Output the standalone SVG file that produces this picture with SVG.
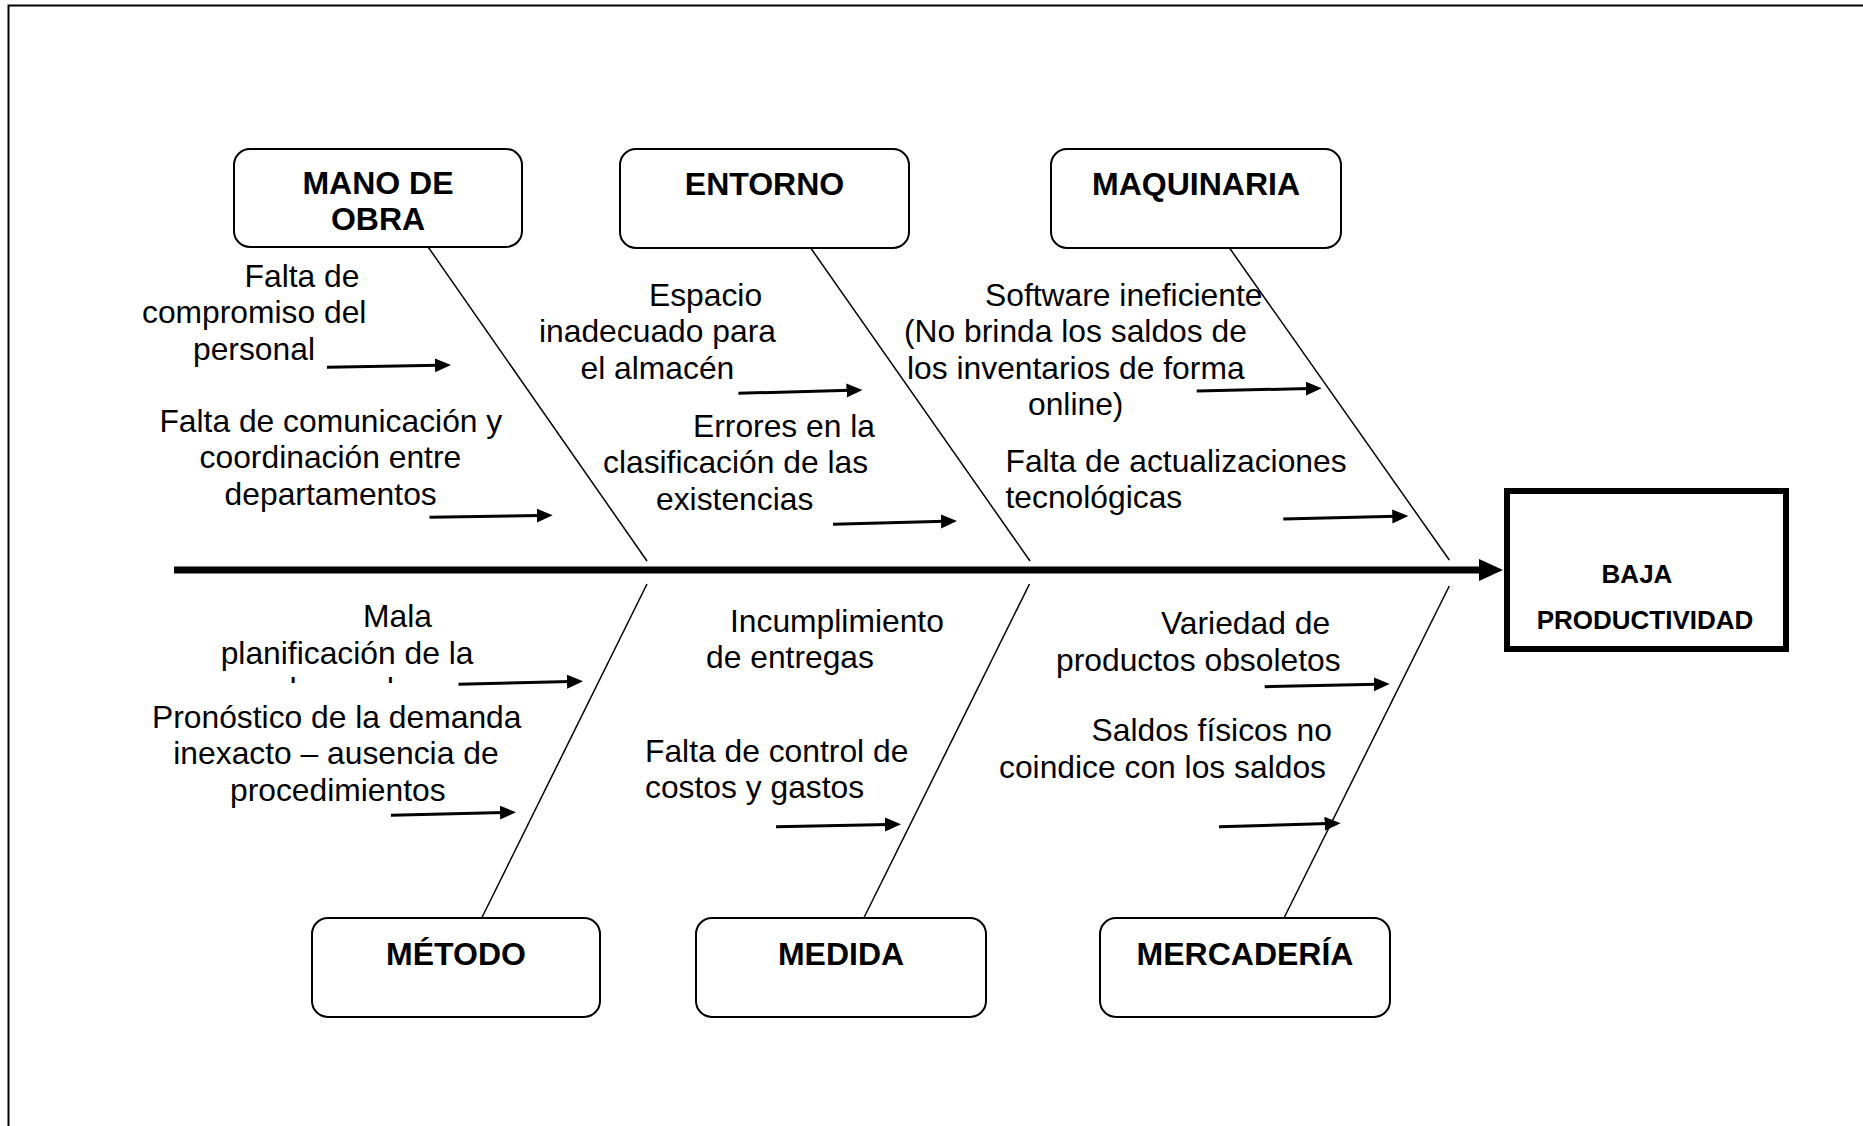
<svg xmlns="http://www.w3.org/2000/svg" width="1863" height="1126" viewBox="0 0 1863 1126">
<style>
.cat rect{fill:#fff;stroke:#000;stroke-width:2}
.cat text{font-family:"Liberation Sans",Arial,sans-serif;font-weight:bold;font-size:32px;text-anchor:middle;fill:#000}
.cause{font-family:"Liberation Sans",Arial,sans-serif;font-size:31.8px;fill:#000}
.bone{stroke:#000;stroke-width:1.5;fill:none}
.sub{stroke:#000;stroke-width:3;fill:none;marker-end:url(#ah)}
.eff{font-family:"Liberation Sans",Arial,sans-serif;font-weight:bold;font-size:26px;text-anchor:middle;fill:#000}
</style>
<defs>
<marker id="ah" markerUnits="userSpaceOnUse" markerWidth="18" markerHeight="16" refX="4" refY="7" orient="auto">
<path d="M0,0 L16,7 L0,14 z" fill="#000"/>
</marker>
<marker id="big" markerUnits="userSpaceOnUse" markerWidth="26" markerHeight="24" refX="2" refY="11" orient="auto">
<path d="M0,0 L24,11 L0,22 z" fill="#000"/>
</marker>
<clipPath id="clipMala"><rect x="150" y="600" width="400" height="83"/></clipPath>
</defs>
<rect width="1863" height="1126" fill="#fff"/>
<path d="M8.5 1126 V5.5 H1863" fill="none" stroke="#000" stroke-width="2"/>

<g id="connectors">
<line x1="174" y1="570" x2="1481" y2="570" stroke="#000" stroke-width="7" marker-end="url(#big)"/>
<line class="bone" x1="428.6" y1="247.7" x2="647" y2="561"/>
<line class="bone" x1="810.7" y1="248" x2="1030" y2="561"/>
<line class="bone" x1="1229.5" y1="248" x2="1449.3" y2="560"/>
<line class="bone" x1="647" y1="584" x2="481.7" y2="918"/>
<line class="bone" x1="1029.5" y1="584" x2="863.8" y2="918"/>
<line class="bone" x1="1449.3" y1="586" x2="1284" y2="918"/>
<line class="sub" x1="327" y1="367.3" x2="439" y2="365.3"/>
<line class="sub" x1="429.5" y1="517.3" x2="540.7" y2="515.4"/>
<line class="sub" x1="738.4" y1="393.3" x2="850.5" y2="390.3"/>
<line class="sub" x1="833" y1="524.3" x2="945" y2="521.3"/>
<line class="sub" x1="1196.7" y1="391" x2="1309.7" y2="388.5"/>
<line class="sub" x1="1283.3" y1="519" x2="1396.3" y2="516.3"/>
<line class="sub" x1="458.5" y1="684.3" x2="571" y2="681.6"/>
<line class="sub" x1="391" y1="815.3" x2="504" y2="812.5"/>
<line class="sub" x1="776" y1="826.7" x2="889" y2="824.4"/>
<line class="sub" x1="1264.7" y1="686.7" x2="1377.7" y2="684.2"/>
<line class="sub" x1="1219" y1="826.7" x2="1328.6" y2="823.6"/>
</g>

<g id="mano-de-obra" class="cat">
<rect x="234" y="149" width="288" height="98" rx="16"/>
<text x="378" y="194">MANO DE</text>
<text x="378" y="230">OBRA</text>
</g>
<g id="entorno" class="cat">
<rect x="620" y="149" width="289" height="99" rx="16"/>
<text x="764.5" y="195">ENTORNO</text>
</g>
<g id="maquinaria" class="cat">
<rect x="1051" y="149" width="290" height="99" rx="16"/>
<text x="1196" y="195">MAQUINARIA</text>
</g>
<g id="metodo" class="cat">
<rect x="312" y="918" width="288" height="99" rx="16"/>
<text x="456" y="965">MÉTODO</text>
</g>
<g id="medida" class="cat">
<rect x="696" y="918" width="290" height="99" rx="16"/>
<text x="841" y="965">MEDIDA</text>
</g>
<g id="mercaderia" class="cat">
<rect x="1100" y="918" width="290" height="99" rx="16"/>
<text x="1245" y="965">MERCADERÍA</text>
</g>
<g id="baja-productividad">
<rect x="1507" y="491" width="279" height="158" fill="#fff" stroke="#000" stroke-width="6"/>
<text class="eff" x="1637" y="583">BAJA</text>
<text class="eff" x="1645" y="629">PRODUCTIVIDAD</text>
</g>

<g id="causes-mano">
<text class="cause" x="244.6" y="286.7">Falta de</text>
<text class="cause" x="142" y="323.3">compromiso del</text>
<text class="cause" x="193" y="359.8">personal</text>
<text class="cause" x="159.4" y="431.7">Falta de comunicación y</text>
<text class="cause" x="199.6" y="468.3">coordinación entre</text>
<text class="cause" x="224.6" y="505">departamentos</text>
</g>
<g id="causes-entorno">
<text class="cause" x="649" y="305.5">Espacio</text>
<text class="cause" x="539" y="342">inadecuado para</text>
<text class="cause" x="580.5" y="378.5">el almacén</text>
<text class="cause" x="693" y="436.7">Errores en la</text>
<text class="cause" x="603" y="473.3">clasificación de las</text>
<text class="cause" x="656" y="510">existencias</text>
</g>
<g id="causes-maquinaria">
<text class="cause" x="985" y="305.5">Software ineficiente</text>
<text class="cause" x="904" y="342">(No brinda los saldos de</text>
<text class="cause" x="907" y="378.7">los inventarios de forma</text>
<text class="cause" x="1028" y="415.3">online)</text>
<text class="cause" x="1005.5" y="471.7">Falta de actualizaciones</text>
<text class="cause" x="1005.5" y="508.3">tecnológicas</text>
</g>
<g id="causes-metodo">
<text class="cause" x="363" y="627">Mala</text>
<text class="cause" x="220.7" y="663.7">planificación de la</text>
<text class="cause" x="279" y="700.4" clip-path="url(#clipMala)">demanda</text>
<text class="cause" x="152" y="727.5">Pronóstico de la demanda</text>
<text class="cause" x="173.3" y="764.2">inexacto – ausencia de</text>
<text class="cause" x="230" y="800.9">procedimientos</text>
</g>
<g id="causes-medida">
<text class="cause" x="730" y="631.7">Incumplimiento</text>
<text class="cause" x="706" y="668.3">de entregas</text>
<text class="cause" x="645" y="761.7">Falta de control de</text>
<text class="cause" x="645" y="798.3">costos y gastos</text>
</g>
<g id="causes-mercaderia">
<text class="cause" x="1161" y="634">Variedad de</text>
<text class="cause" x="1056" y="670.7">productos obsoletos</text>
<text class="cause" x="1091.5" y="741">Saldos físicos no</text>
<text class="cause" x="999" y="777.7">coindice con los saldos</text>
</g>
</svg>
